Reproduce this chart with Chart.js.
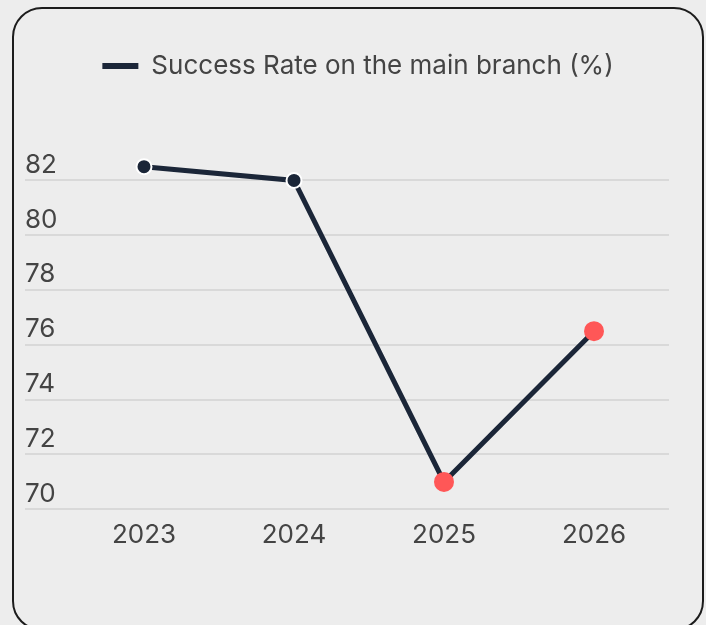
<!DOCTYPE html>
<html lang="en">
<head>
    <meta charset="UTF-8">
    <meta name="viewport" content="width=device-width, initial-scale=1.0">
    <title>Success rate</title>
    <script src="https://cdn.jsdelivr.net/npm/chart.js@4.4.1/dist/chart.umd.min.js"></script>
    <style>
        html, body { margin: 0; padding: 0; background: #ededed; }
        .card {
            position: absolute;
            left: 12px;
            top: 7px;
            width: 688px;
            height: 620px;
            border: 2px solid #1c1c1c;
            border-radius: 30px;
            background: #ededed;
        }
        .chartBox { position: relative; width: 688px; height: 620px; }
    </style>
</head>
<body>
    <div class="card">
        <div class="chartBox"><canvas id="lineChart"></canvas></div>
    </div>

    <script>
        const years = ["2023", "2024", "2025", "2026"];
        const successRate = [82.5, 82, 71, 76.5];
        const seriesLabel = "Success Rate on the main branch (%)";
        const target = 80; // points under this are flagged red

        const navy = "#1b2638";
        const red = "#ff5757";

        Chart.defaults.font.family = "Inter, 'Noto Sans', sans-serif";
        Chart.defaults.font.size = 26;
        Chart.defaults.color = "#444444";

        // more room under the legend, and keep it centred on the whole card
        const legendGap = {
            id: "legendGap",
            beforeInit(chart) {
                const fit = chart.legend.fit;
                chart.legend.fit = function () {
                    fit.bind(chart.legend)();
                    this.height += 64;
                };
            },
            afterLayout(chart) {
                chart.legend.left = 0;
                chart.legend.right = chart.width;
            }
        };

        const below = ctx => ctx.raw < target;

        new Chart("lineChart", {
            type: "line",
            data: {
                labels: years,
                datasets: [{
                    label: seriesLabel,
                    data: successRate,
                    borderColor: navy,
                    backgroundColor: navy,
                    borderWidth: 5,
                    tension: 0,
                    fill: false,
                    pointRadius: ctx => below(ctx) ? 9 : 7.5,
                    pointBorderWidth: 2,
                    pointBackgroundColor: ctx => below(ctx) ? red : navy,
                    pointBorderColor: ctx => below(ctx) ? red : "#ffffff"
                }]
            },
            options: {
                responsive: true,
                maintainAspectRatio: false,
                animation: false,
                layout: { padding: { left: 11, right: 33, top: 34, bottom: 67.5 } },
                plugins: {
                    legend: {
                        display: true,
                        labels: {
                            usePointStyle: true,
                            pointStyle: "line",
                            pointStyleWidth: 36,
                            padding: 10,
                            // legend shows a plain navy stroke, not the first point's style
                            generateLabels(chart) {
                                return Chart.defaults.plugins.legend.labels.generateLabels(chart).map(item => ({
                                    ...item,
                                    strokeStyle: navy,
                                    fillStyle: navy,
                                    lineWidth: 6
                                }));
                            }
                        }
                    },
                    tooltip: { enabled: false }
                },
                scales: {
                    x: {
                        offset: true,
                        grid: { display: false, drawTicks: false },
                        border: { display: false },
                        ticks: { padding: 10.5 }
                    },
                    y: {
                        min: 70,
                        max: 83,
                        afterFit(scale) { scale.width = 44; },
                        grid: { color: "#d9d9d9", lineWidth: 2, drawTicks: true, tickLength: 44 },
                        border: { display: false },
                        ticks: {
                            stepSize: 2,
                            includeBounds: false,
                            crossAlign: "far",
                            labelOffset: -15.5
                        }
                    }
                }
            },
            plugins: [legendGap]
        });
    </script>
</body>
</html>
